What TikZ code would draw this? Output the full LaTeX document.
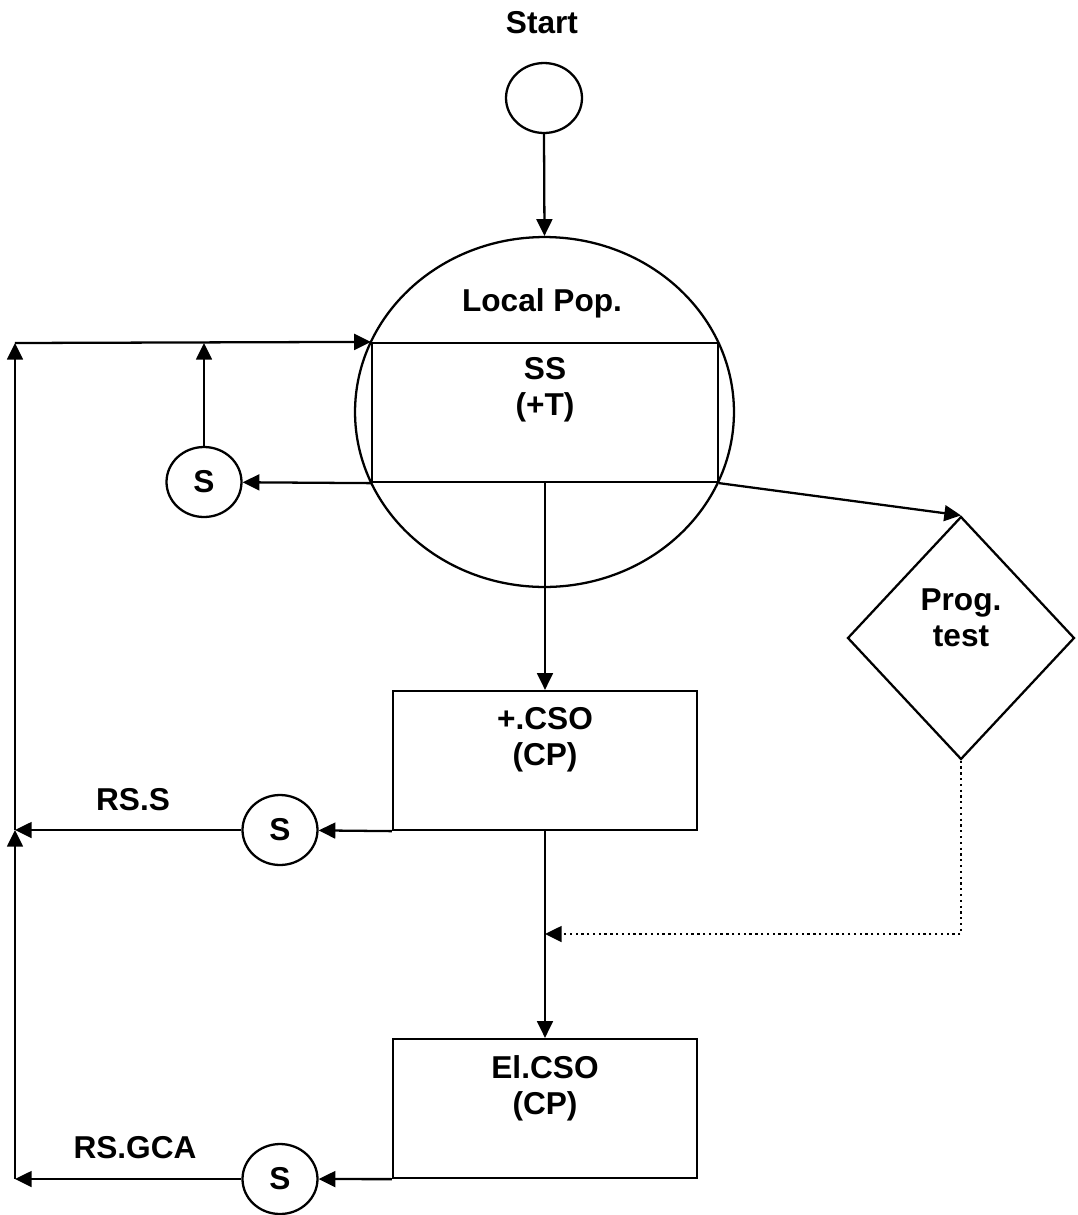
\documentclass[tikz,border=0pt]{standalone}
\usepackage{fontspec}
\setmainfont{Liberation Sans}
\usetikzlibrary{arrows.meta, positioning, shapes.geometric}

\begin{document}
\begin{tikzpicture}[
  x=0.02cm, y=-0.02cm,
  every node/.style={font=\fontsize{18}{20.5}\selectfont\bfseries, align=center},
  arr/.style={-{Triangle[length=9.5pt, width=9pt]}, line width=1.3pt},
  dotarr/.style={-{Triangle[length=9.5pt, width=9pt]}, line width=1.3pt, dotted},
  blob/.style={draw, ellipse, line width=1.3pt, inner sep=0pt},
  sel/.style={blob, minimum width=1.5cm, minimum height=1.4cm},
  box/.style={draw, rectangle, line width=1.3pt, minimum width=6.08cm, minimum height=2.78cm},
  decision/.style={draw, diamond, line width=1.3pt, minimum width=4.54cm, minimum height=4.86cm, inner sep=0pt},
]
  \useasboundingbox (0,0) rectangle (1078,1215);

  %% Start and local population
  \node (starttxt) at (542,23) {Start};
  \node[blob, minimum width=1.52cm, minimum height=1.4cm] (start) at (544,98) {};
  \node[blob, minimum width=7.58cm, minimum height=7cm] (pop) at (544.5,412) {};
  \node (poptxt) at (542,303) {Local Pop.};
  \node[box, minimum width=6.92cm] (ss) at (545,412.5) {};
  \node (sstxt) at (545,390) {SS\\(+T)};

  %% Operators
  \node[box] (cso) at (545,760.5) {};
  \node (csotxt) at (545,740) {+.CSO\\(CP)};
  \node[box] (el) at (545,1108.5) {};
  \node (eltxt) at (545,1088) {El.CSO\\(CP)};

  %% Progress test
  \node[decision] (prog) at (961,638) {};
  \node (progtxt) at (961,618) {Prog.\\test};

  %% Selections
  \node[sel] (s1) at (204,482) {S};
  \node[sel] (s2) at (280,830) {S};
  \node[sel] (s3) at (280,1179) {S};
  \node (rss) at (133,800) {RS.S};
  \node (rsgca) at (135,1148) {RS.GCA};

  \coordinate (lt) at (15,343);
  \coordinate (lm) at (15,830);
  \coordinate (lb) at (15,1179);
  \coordinate (jn) at (545,934);

  % main flow
  \draw[arr] (start.south) -- (pop.north);
  \draw[arr] (ss.south) -- (cso.north);
  \draw[arr] (cso.south) -- (el.north);
  \draw[arr] (ss.south east) -- (prog.north);
  \draw[dotarr] (prog.south) |- (jn);

  % feedback loops
  \draw[arr] (ss.south west) -- (s1);
  \draw[arr] (s1) -- (s1 |- lt);
  \draw[arr] (cso.south west) -- (s2);
  \draw[arr] (s2) -- (lm);
  \draw[arr] (el.south west) -- (s3);
  \draw[arr] (s3) -- (lb);
  \draw[arr] (lb) -- (lm);
  \draw[arr] (lm) -- (lt);
  \draw[arr] (lt) -- (ss.north west);
\end{tikzpicture}
\end{document}
